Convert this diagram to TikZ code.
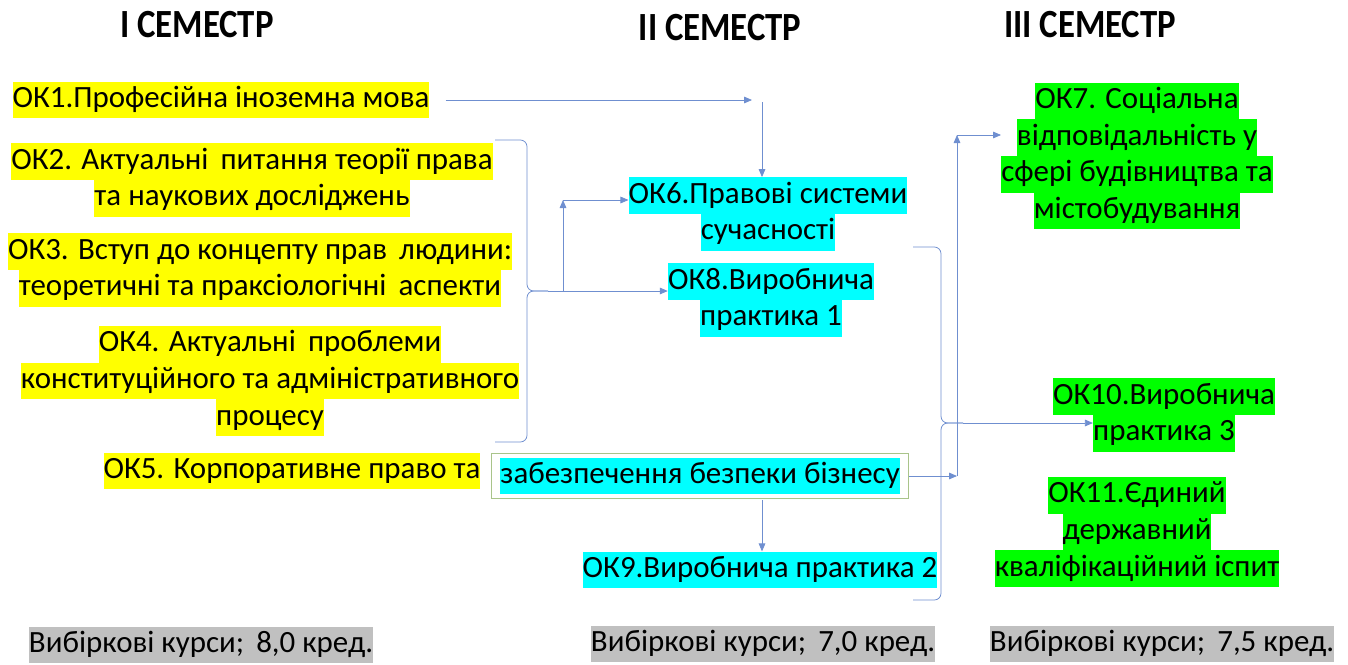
\documentclass[tikz,border=0pt]{standalone}
\usepackage{fontspec}
\setmainfont{Carlito}
\newfontfamily\narrowfont[FakeStretch=0.87]{Carlito}
\usetikzlibrary{arrows.meta, positioning}
\definecolor{hlyellow}{HTML}{FFFF00}
\definecolor{hlcyan}{HTML}{00FFFF}
\definecolor{hlgreen}{HTML}{00FF00}
\definecolor{hlgrey}{HTML}{C0C0C0}
\definecolor{linkblue}{HTML}{6F8FD0}
\definecolor{boxgreen}{HTML}{A9C48A}
\newcommand{\hlbox}[2]{{\setlength{\fboxsep}{0pt}\colorbox{#1}{\strut #2}}}

\begin{document}
\begin{tikzpicture}[
  x=0.75pt, y=-0.75pt,
  course/.style={inner sep=0pt, align=center, font=\fontsize{23.2}{27.5}\selectfont},
  sem/.style={font=\narrowfont\fontsize{30}{32}\selectfont\bfseries},
  rel/.style={draw=linkblue, line width=0.6pt, -{Triangle[length=6pt,width=5pt]}},
  bracket/.style={draw=linkblue, line width=0.6pt, rounded corners=5pt},
]
  \useasboundingbox (0,0) rectangle (1348,664);

  % semester headings
  \node[sem] (sem1) at (197,25) {I СЕМЕСТР};
  \node[sem] (sem2) at (720,28) {II СЕМЕСТР};
  \node[sem] (sem3) at (1090,25) {III СЕМЕСТР};

  % I semester
  \node[course] (ok1) at (221,100) {\hlbox{hlyellow}{ОК1.Професійна іноземна мова}};
  \node[course] (ok2) at (252,180) {\hlbox{hlyellow}{ОК2. Актуальні\, питання теорії права}\\
    \hlbox{hlyellow}{та наукових досліджень}};
  \node[course] (ok3) at (260,270) {\hlbox{hlyellow}{ОК3. Вступ до концепту прав\, людини:}\\
    \hlbox{hlyellow}{теоретичні та праксіологічні\, аспекти}};
  \node[course] (ok4) at (270,381) {\hlbox{hlyellow}{ОК4. Актуальні\, проблеми}\\
    \hlbox{hlyellow}{конституційного та адміністративного}\\
    \hlbox{hlyellow}{процесу}};
  \node[course] (ok5a) at (292,471) {\hlbox{hlyellow}{ОК5. Корпоративне право та}};
  \node[course, draw=boxgreen, line width=0.8pt, inner xsep=7pt, inner ysep=3pt] (ok5b) at (700,476)
    {\hlbox{hlcyan}{забезпечення безпеки бізнесу}};

  % II semester
  \node[course] (ok6) at (768,214) {\hlbox{hlcyan}{ОК6.Правові системи}\\
    \hlbox{hlcyan}{сучасності}};
  \node[course] (ok8) at (771,300) {\hlbox{hlcyan}{ОК8.Виробнича}\\
    \hlbox{hlcyan}{практика 1}};
  \node[course] (ok9) at (760,570) {\hlbox{hlcyan}{ОК9.Виробнича практика 2}};

  % III semester
  \node[course] (ok7) at (1137,156) {\hlbox{hlgreen}{ОК7. Соціальна}\\
    \hlbox{hlgreen}{відповідальність у}\\
    \hlbox{hlgreen}{сфері будівництва та}\\
    \hlbox{hlgreen}{містобудування}};
  \node[course] (ok10) at (1164,415) {\hlbox{hlgreen}{ОК10.Виробнича}\\
    \hlbox{hlgreen}{практика 3}};
  \node[course] (ok11) at (1137,532) {\hlbox{hlgreen}{ОК11.Єдиний}\\
    \hlbox{hlgreen}{державний}\\
    \hlbox{hlgreen}{кваліфікаційний іспит}};

  % electives
  \node[course] (el1) at (201,645) {\hlbox{hlgrey}{Вибіркові курси;\, 8,0 кред.}};
  \node[course] (el2) at (763,644) {\hlbox{hlgrey}{Вибіркові курси;\, 7,0 кред.}};
  \node[course] (el3) at (1162,644) {\hlbox{hlgrey}{Вибіркові курси;\, 7,5 кред.}};

  % junction points
  \coordinate (j1) at (752,100);
  \coordinate (j2) at (762,102);
  \coordinate (b1t) at (495,140);
  \coordinate (b1b) at (495,442);
  \coordinate (b1m) at (527,291);
  \coordinate (b1tip) at (548,291);
  \coordinate (j3) at (563,200);
  \coordinate (b2t) at (913,247);
  \coordinate (b2b) at (913,600);
  \coordinate (b2m) at (941,423);
  \coordinate (b2tip) at (963,423);
  \coordinate (j4) at (957,476);
  \coordinate (j5) at (957,135);
  \coordinate (j6) at (762,500);

  \draw[rel, shorten <=12pt] (ok1.east) -- (j1);
  \draw[rel] (j2) -- (j2 |- ok6.north);
  \draw[bracket] (b1t) -| (b1m) -- (b1tip);
  \draw[bracket] (b1b) -| (b1m) -- (b1tip);
  \draw[rel] (b1tip) -- (b1tip -| ok8.west);
  \draw[rel] (b1tip -| j3) -- (j3);
  \draw[rel] (j3) -- (j3 -| ok6.west);
  \draw[bracket] (b2t) -| (b2m) -- (b2tip);
  \draw[bracket] (b2b) -| (b2m) -- (b2tip);
  \draw[rel] (b2tip) -- ([xshift=30pt]b2tip -| ok10.west);
  \draw[rel] (ok5b.east) -- (j4);
  \draw[rel] (j4) -- (j5);
  \draw[rel] (j5) -- (j5 -| ok7.west);
  \draw[rel] (j6) -- (j6 |- ok9.north);
\end{tikzpicture}
\end{document}
